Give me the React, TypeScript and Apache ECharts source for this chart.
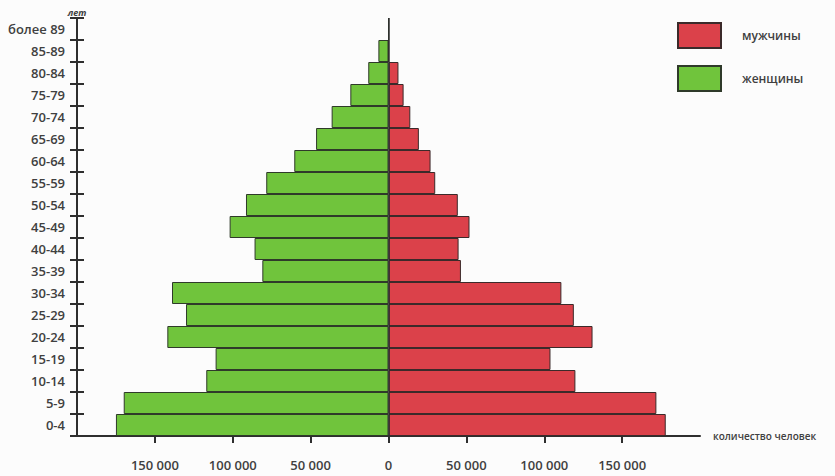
import React, { useEffect, useRef } from "react";
import * as echarts from "echarts";

const categories = [
  "0-4", "5-9", "10-14", "15-19", "20-24", "25-29", "30-34", "35-39", "40-44",
  "45-49", "50-54", "55-59", "60-64", "65-69", "70-74", "75-79", "80-84", "85-89", "более 89",
];
const men = [178000, 172000, 120000, 104000, 131000, 119000, 111000, 46500, 45000, 52000, 44500, 30000, 27000, 19500, 14000, 9700, 6400, 0, 0];
const women = [175000, 170000, 117000, 111000, 142000, 130000, 139000, 81000, 86000, 102000, 91500, 78500, 60500, 46500, 36500, 24500, 13000, 6500, 0];
const tickValues = [-150000, -100000, -50000, 0, 50000, 100000, 150000];

const fmt = (v: number) => {
  const a = Math.abs(v);
  if (a === 0) return "0";
  const s = String(a);
  return s.replace(/\B(?=(\d{3})+(?!\d))/g, " ");
};

export default function App() {
  const ref = useRef<HTMLDivElement>(null);
  useEffect(() => {
    document.body.style.margin = "0";
    const chart = echarts.init(ref.current!, null, { renderer: "svg" });
    const textColor = "#404040";
    const font = "'Open Sans', sans-serif";
    chart.setOption({
      animation: false,
      backgroundColor: "#fcfcfc",
      textStyle: { fontFamily: font },
      legend: {
        data: ["мужчины", "женщины"],
        orient: "vertical",
        left: 672,
        top: 17,
        itemWidth: 43,
        itemHeight: 25,
        itemGap: 16,
        icon: "rect",
        textStyle: { color: textColor, fontSize: 12, fontWeight: 600, fontFamily: font, padding: [0, 0, 0, 16] },
      },
      grid: { left: 77, right: 135, top: 18, bottom: 40, containLabel: false },
      xAxis: {
        type: "value",
        min: -200000,
        max: 200000,
        interval: 50000,
        name: "количество человек",
        nameLocation: "end",
        nameGap: 13,
        nameTextStyle: { color: textColor, fontSize: 10, fontWeight: 600, fontFamily: font, padding: [8, 0, 0, 0] },
        axisLine: { show: true, lineStyle: { color: "#2e2e2e", width: 2 } },
        axisTick: { show: true, length: 7, lineStyle: { color: "#2e2e2e", width: 2 }, customValues: tickValues },
        axisLabel: { color: textColor, fontSize: 13, fontWeight: 600, fontFamily: font, margin: 22, formatter: fmt, customValues: tickValues },
        splitLine: { show: false },
      },
      yAxis: [
        {
          type: "category",
          data: categories,
          position: "left",
          name: "лет",
          nameLocation: "end",
          nameGap: 1,
          nameTextStyle: { color: textColor, fontSize: 9, fontStyle: "italic", fontWeight: "bold", fontFamily: font },
          axisLine: { show: true, onZero: false, lineStyle: { color: "#2e2e2e", width: 2 } },
          axisTick: { show: true, interval: 0, length: 7, lineStyle: { color: "#2e2e2e", width: 2 } },
          axisLabel: { interval: 0, color: textColor, fontSize: 13, fontWeight: 600, fontFamily: font, margin: 12 },
        },
        {
          type: "category",
          data: categories,
          position: "left",
          axisLine: { show: false, onZero: false },
          axisTick: { show: true, inside: true, interval: 0, length: 7, lineStyle: { color: "#2e2e2e", width: 2 } },
          axisLabel: { show: false },
        },
      ],
      series: [
        {
          name: "мужчины",
          type: "bar",
          data: men,
          barGap: "-100%",
          barCategoryGap: "0%",
          itemStyle: { color: "#db414a", borderColor: "#3b2a2a", borderWidth: 1 },
          markLine: {
            silent: true,
            symbol: "none",
            label: { show: false },
            lineStyle: { color: "#2e2e2e", width: 1.5, type: "solid" },
            data: [{ xAxis: 0 }],
          },
        },
        {
          name: "женщины",
          type: "bar",
          data: women.map((v) => -v),
          barGap: "-100%",
          barCategoryGap: "0%",
          itemStyle: { color: "#70c43c", borderColor: "#2f3a2a", borderWidth: 1 },
        },
      ],
    });
    return () => chart.dispose();
  }, []);
  return <div ref={ref} style={{ width: 835, height: 476 }} />;
}
